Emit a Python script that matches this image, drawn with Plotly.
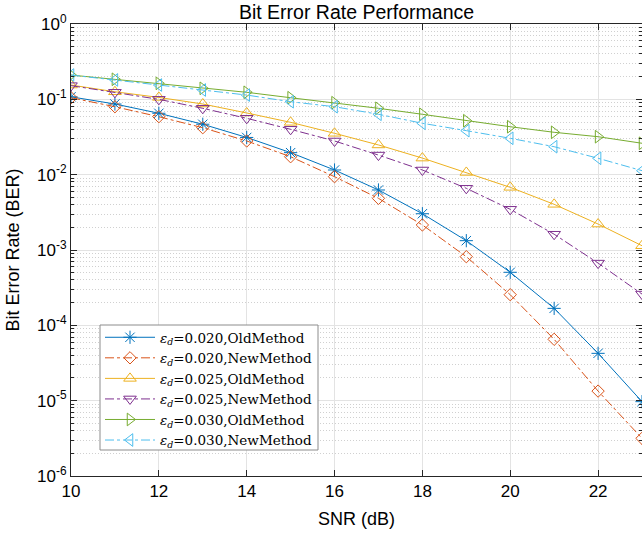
import plotly.graph_objects as go

snr = [10, 11, 12, 13, 14, 15, 16, 17, 18, 19, 20, 21, 22, 23]

ber_old_020 = [0.108, 0.0867, 0.0653, 0.0467, 0.0312, 0.0196, 0.01153, 0.00626,
               0.00303, 0.00133, 5.06e-4, 1.68e-4, 4.25e-5, 9.7e-6]
ber_new_020 = [0.105, 0.0798, 0.0588, 0.0420, 0.0280, 0.0173, 0.0094, 0.00485,
               0.00215, 8.15e-4, 2.55e-4, 6.52e-5, 1.34e-5, 3.16e-6]
ber_old_025 = [0.155, 0.126, 0.106, 0.0867, 0.0659, 0.0495, 0.0354, 0.0248,
               0.0166, 0.0107, 0.00679, 0.00404, 0.00221, 0.00114]
ber_new_025 = [0.152, 0.124, 0.100, 0.076, 0.056, 0.040, 0.028, 0.0182,
               0.01153, 0.00659, 0.00347, 0.00162, 6.7e-4, 2.6e-4]
ber_old_030 = [0.210, 0.1845, 0.163, 0.140, 0.124, 0.105, 0.0902, 0.076,
               0.0633, 0.052, 0.0433, 0.0365, 0.0319, 0.0261]
ber_new_030 = [0.210, 0.181, 0.155, 0.133, 0.114, 0.093, 0.0798, 0.0633,
               0.0481, 0.0384, 0.0304, 0.0235, 0.0165, 0.0113]

names = ["<i>ε</i><sub><i>d</i></sub>=0.020,OldMethod",
         "<i>ε</i><sub><i>d</i></sub>=0.020,NewMethod",
         "<i>ε</i><sub><i>d</i></sub>=0.025,OldMethod",
         "<i>ε</i><sub><i>d</i></sub>=0.025,NewMethod",
         "<i>ε</i><sub><i>d</i></sub>=0.030,OldMethod",
         "<i>ε</i><sub><i>d</i></sub>=0.030,NewMethod"]

x_tickvals = [10, 12, 14, 16, 18, 20, 22]
x_ticktext = ["10", "12", "14", "16", "18", "20", "22"]
y_tickvals = [1e-6, 1e-5, 1e-4, 1e-3, 1e-2, 1e-1, 1]
y_ticktext = ["10<sup>-6</sup>", "10<sup>-5</sup>", "10<sup>-4</sup>",
              "10<sup>-3</sup>", "10<sup>-2</sup>", "10<sup>-1</sup>", "10<sup>0</sup>"]

series = [ber_old_020, ber_new_020, ber_old_025, ber_new_025, ber_old_030, ber_new_030]
colors = ["#0072BD", "#D95319", "#EDB120", "#7E2F8E", "#77AC30", "#4DBEEE"]
dashes = ["solid", "dashdot", "solid", "dashdot", "solid", "dashdot"]
symbols = ["asterisk-open", "diamond-open", "triangle-up-open", "triangle-down-open",
           "triangle-right-open", "triangle-left-open"]
sizes = [11, 9.5, 11, 11, 11, 11]

fig = go.Figure()
for y, c, d, s, sz, n in zip(series, colors, dashes, symbols, sizes, names):
    fig.add_trace(go.Scatter(
        x=snr, y=y, name=n, mode="lines+markers",
        line=dict(color=c, width=1, dash=d),
        marker=dict(symbol=s, size=sz, color=c, line=dict(color=c, width=1)),
    ))

minor_vals = [m * 10 ** e for e in range(-6, 0) for m in range(2, 10)]

W, H = 642, 535
L, R, T, B = 71, 0, 24, 59
pw, ph = W - L - R, H - T - B

def px_x(p):
    return (p - L) / pw

def px_y(p):
    return (H - B - p) / ph

axis_col = "#262626"
fig.update_layout(
    width=W, height=H,
    margin=dict(l=L, r=R, t=T, b=B, autoexpand=False),
    paper_bgcolor="white", plot_bgcolor="white",
    font=dict(family="Liberation Sans, Arial, sans-serif", size=16, color=axis_col),
    title=dict(text="Bit Error Rate Performance", x=(L + W) / 2 / W, xanchor="center",
               y=1 - 12 / H, yanchor="middle",
               font=dict(size=19.5, color="#000000")),
    showlegend=True,
    legend=dict(
        x=px_x(100), y=px_y(322), xanchor="left", yanchor="top",
        bgcolor="rgba(0,0,0,0)", borderwidth=0,
        font=dict(family="DejaVu Serif, serif", size=13.5, color="#000000"),
        itemwidth=50, tracegroupgap=0,
    ),
    shapes=[dict(type="rect", xref="paper", yref="paper",
                 x0=px_x(100), x1=px_x(318), y0=px_y(450), y1=px_y(325),
                 fillcolor="white", line=dict(color="#8c8c8c", width=1), layer="above")],
    xaxis=dict(
        range=[10, 23], tickmode="array", tickvals=x_tickvals, ticktext=x_ticktext,
        showline=True, linecolor=axis_col, linewidth=1, mirror="allticks",
        ticks="inside", ticklen=6, tickcolor=axis_col, automargin=False,
        showgrid=True, gridcolor="#e3e3e3", gridwidth=1, zeroline=False,
        tickfont=dict(size=17, color="#000000"),
        title=dict(text="SNR (dB)", font=dict(size=18, color="#000000"), standoff=11),
    ),
    yaxis=dict(
        type="log", range=[-6, 0], tickmode="array", tickvals=y_tickvals, ticktext=y_ticktext,
        showline=True, linecolor=axis_col, linewidth=1, mirror="allticks",
        ticks="inside", ticklen=6, tickcolor=axis_col, automargin=False,
        showgrid=True, gridcolor="#e3e3e3", gridwidth=1, zeroline=False,
        tickfont=dict(size=17, color="#000000"),
        title=dict(text="Bit Error Rate (BER)", font=dict(size=18, color="#000000"), standoff=12),
        minor=dict(tickmode="array", tickvals=minor_vals, ticks="inside", ticklen=3,
                   tickcolor=axis_col, showgrid=True, gridcolor="#d0d0d0", griddash="1px,2px",
                   gridwidth=1),
    ),
)

fig.write_html(
    "out.html",
    config={"displayModeBar": False},
    post_script="document.body.style.margin='0';document.body.style.overflow='hidden';",
)
